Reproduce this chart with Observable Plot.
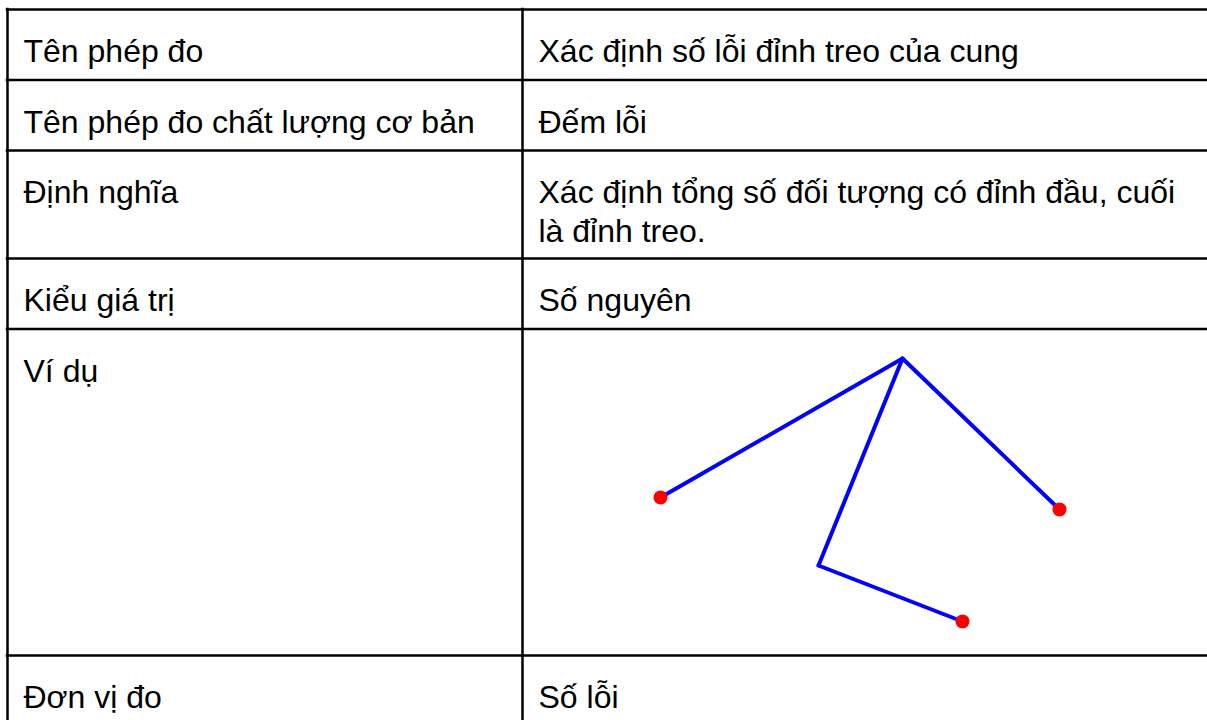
<!DOCTYPE html>
<html>
<head>
<meta charset="utf-8">
<script src="https://cdn.jsdelivr.net/npm/d3@7"></script>
<script src="https://cdn.jsdelivr.net/npm/@observablehq/plot@0.6"></script>
<style>
  html, body { margin: 0; padding: 0; background: #fff; }
  #chart { width: 1207px; height: 720px; overflow: hidden; }
</style>
</head>
<body>
<div id="chart"></div>
<script>
// ---- Data ----
const fieldNames = [
  "Tên phép đo",
  "Tên phép đo chất lượng cơ bản",
  "Định nghĩa",
  "Kiểu giá trị",
  "Ví dụ",
  "Đơn vị đo"
];
const fieldValues = [
  "Xác định số lỗi đỉnh treo của cung",
  "Đếm lỗi",
  "Xác định tổng số đối tượng có đỉnh đầu, cuối\nlà đỉnh treo.",
  "Số nguyên",
  "",
  "Số lỗi"
];
// example graph (vertex positions)
const nodeIds     = ["top", "left", "right", "mid", "bottom"];
const nodeX       = [902, 660, 1059, 818, 962];
const nodeY       = [358, 497, 509, 565, 621];
const nodeHanging = [false, true, true, false, true];
const edgeFrom    = ["left", "top", "top", "mid"];
const edgeTo      = ["top", "right", "mid", "bottom"];

// ---- Layout ----
const W = 1207, H = 720;
const tableLeft = 7, tableTop = 9, colSplit = 522, cellPad = 16;
const diagramRow = 4, diagramHeight = 326.5;
const rowStep = 37.5, rowPad = 33;

const rows = fieldNames.map((name, i) => ({name, value: fieldValues[i]}));
let acc = tableTop;
rows.forEach((r, i) => {
  const lines = Math.max(r.name.split("\n").length, r.value.split("\n").length);
  r.top = acc;
  r.h = i === diagramRow ? diagramHeight : rowPad + rowStep * lines;
  acc += r.h;
});
const hLines = rows.map(r => r.top);

const nodes = nodeIds.map((id, i) => ({id, x: nodeX[i], y: nodeY[i], hanging: nodeHanging[i]}));
const byId = new Map(nodes.map(n => [n.id, n]));
const edges = edgeFrom.map((f, i) => ({a: byId.get(f), b: byId.get(edgeTo[i])}));

const fontSize = 32;
const textLineStep = 39;
const textTopOffset = 25;

const chart = Plot.plot({
  width: W,
  height: H,
  margin: 0,
  x: {domain: [0, W], range: [0, W], axis: null},
  y: {domain: [0, H], range: [0, H], axis: null},
  style: {background: "#fff", fontFamily: "'Liberation Sans', Arial, sans-serif"},
  marks: [
    Plot.ruleY(hLines, {y: d => d, x1: tableLeft - 1.25, x2: W + 10, stroke: "#000", strokeWidth: 2.5}),
    Plot.ruleX([tableLeft, colSplit], {x: d => d, y1: tableTop - 1.25, y2: H + 10, stroke: "#000", strokeWidth: 2.5}),
    Plot.text(rows, {
      x: tableLeft + cellPad, y: d => d.top + textTopOffset, text: "name",
      textAnchor: "start", lineAnchor: "top", fontSize, lineHeight: textLineStep / fontSize, fill: "#000"
    }),
    Plot.text(rows.filter(r => r.value), {
      x: colSplit + cellPad, y: d => d.top + textTopOffset, text: "value",
      textAnchor: "start", lineAnchor: "top", fontSize, lineHeight: textLineStep / fontSize, fill: "#000"
    }),
    Plot.link(edges, {
      x1: d => d.a.x, y1: d => d.a.y, x2: d => d.b.x, y2: d => d.b.y,
      stroke: "#0000ff", strokeWidth: 4, strokeLinecap: "round"
    }),
    Plot.dot(nodes.filter(n => n.hanging), {x: "x", y: "y", r: 7, fill: "#ff0000", stroke: "none"})
  ]
});
document.getElementById("chart").appendChild(chart);
</script>
</body>
</html>
